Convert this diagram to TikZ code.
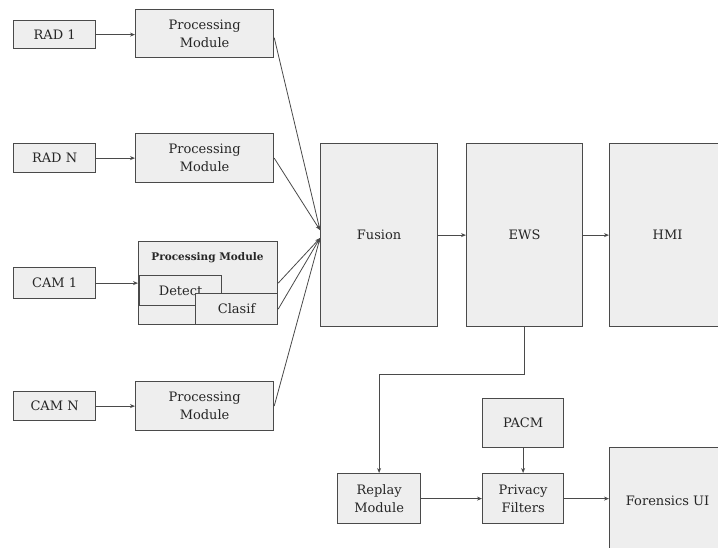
\documentclass[tikz,border=0pt]{standalone}
\usepackage{fontspec}
\setmainfont{DejaVu Serif}
\usetikzlibrary{arrows.meta}
\definecolor{boxfill}{HTML}{EEEEEE}
\definecolor{boxline}{HTML}{4A4A4A}
\definecolor{txt}{HTML}{262626}
\tikzset{
  box/.style={draw=boxline, fill=boxfill, line width=1.2pt, anchor=north west, inner sep=0pt, align=center, text=txt, font=\fontsize{13}{18}\selectfont},
  conn/.style={draw=boxline, line width=0.8pt, -{Stealth[length=5pt,width=4pt]}}
}
\begin{document}
\begin{tikzpicture}[x=1pt,y=-1pt]
\clip (0,0) rectangle (718,547);
\fill[white] (0,0) rectangle (718,547);
% sources
\node[box, minimum width=82pt, minimum height=28pt] (rad1) at (13,20) {RAD 1};
\node[box, minimum width=82pt, minimum height=29pt] (radn) at (13,143) {RAD N};
\node[box, minimum width=82pt, minimum height=31pt] (cam1) at (13,267) {CAM 1};
\node[box, minimum width=82pt, minimum height=29pt] (camn) at (13,391) {CAM N};
% processing modules
\node[box, minimum width=138pt, minimum height=48pt] (pm1) at (135,9) {Processing\\Module};
\node[box, minimum width=138pt, minimum height=49pt] (pm2) at (135,133) {Processing\\Module};
\node[box, minimum width=139pt, minimum height=83pt] (pmc) at (138,241) {};
\node[text=txt, font=\fontsize{10.5}{12}\selectfont\bfseries, inner sep=0pt] (pmctitle) at (207.5,258) {Processing Module};
\node[box, minimum width=82pt, minimum height=30pt] (detect) at (139,275) {Detect};
\node[box, minimum width=82pt, minimum height=31pt] (clasif) at (195,293) {Clasif};
\node[box, minimum width=138pt, minimum height=49pt] (pm4) at (135,381) {Processing\\Module};
% main chain
\node[box, minimum width=117pt, minimum height=183pt] (fusion) at (320,143) {Fusion};
\node[box, minimum width=116pt, minimum height=183pt] (ews) at (466,143) {EWS};
\node[box, minimum width=116pt, minimum height=183pt] (hmi) at (609,143) {HMI};
% forensic chain
\node[box, minimum width=83pt, minimum height=50pt] (replay) at (337,473) {Replay\\Module};
\node[box, minimum width=81pt, minimum height=50pt] (privacy) at (482,473) {Privacy\\Filters};
\node[box, minimum width=81pt, minimum height=49pt] (pacm) at (482,398) {PACM};
\node[box, minimum width=116pt, minimum height=106pt] (forensics) at (609,447) {Forensics UI};
% connectors
\draw[conn] (rad1.east) -- (rad1.east -| pm1.west);
\draw[conn] (radn.east) -- (radn.east -| pm2.west);
\draw[conn] (cam1.east) -- (cam1.east -| pmc.west);
\draw[conn] (camn.east) -- (camn.east -| pm4.west);
\coordinate (fa) at ([yshift=5pt]fusion.west);
\coordinate (fb) at ([yshift=-3pt]fusion.west);
\draw[conn] ([yshift=-4pt]pm1.east) -- (fa);
\draw[conn] (pm2.east) -- (fa);
\draw[conn] (pmc.east) -- (fb);
\draw[conn] (clasif.east) -- (fb);
\draw[conn] (pm4.east) -- (fb);
\draw[conn] (fusion) -- (ews);
\draw[conn] (ews.east) -- (ews.east -| hmi.west);
\draw[conn] (ews.south) -- ++(0,47) -| (replay.north);
\draw[conn] (pacm) -- (privacy);
\draw[conn] (replay.east) -- (replay.east -| privacy.west);
\draw[conn] (privacy.east) -- (privacy.east -| forensics.west);
\end{tikzpicture}
\end{document}
